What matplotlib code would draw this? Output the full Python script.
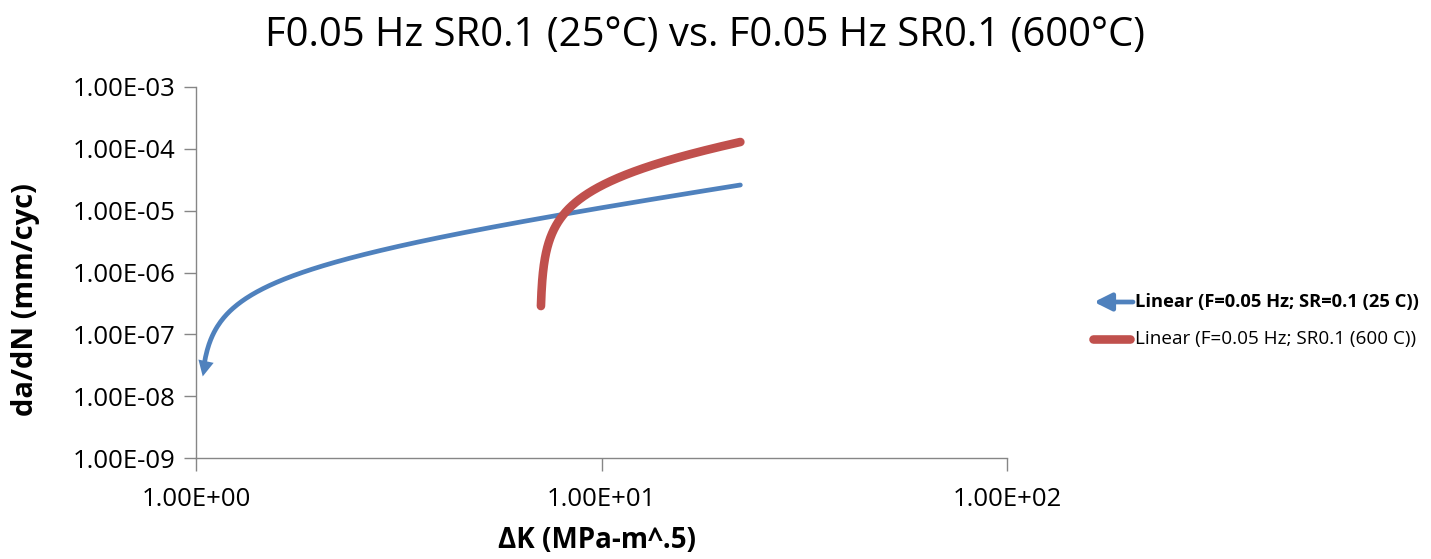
import numpy as np
import matplotlib
matplotlib.use("Agg")
import matplotlib.pyplot as plt
from matplotlib.ticker import FixedLocator, NullLocator

# Excel "Linear" trendlines (y = slope * x + intercept)
series_names = ["Linear (F=0.05 Hz; SR=0.1 (25 C))", "Linear (F=0.05 Hz; SR0.1 (600 C))"]
slopes = [1.24e-6, 8.63e-6]
intercepts = [-1.266e-6, -6.09e-5]
x_starts = [1.045, 7.09]
x_ends = [22.0, 22.0]

x_ticks = [1, 10, 100]
x_tick_labels = ["1.00E+00", "1.00E+01", "1.00E+02"]
y_ticks = [1e-9, 1e-8, 1e-7, 1e-6, 1e-5, 1e-4, 1e-3]
y_tick_labels = ["1.00E-09", "1.00E-08", "1.00E-07", "1.00E-06", "1.00E-05", "1.00E-04", "1.00E-03"]

blue = "#4F81BD"
red = "#C0504D"
grey = "#868686"

plt.rcParams['font.family'] = ['Open Sans', 'DejaVu Sans']

W, H = 1431, 559
fig = plt.figure(figsize=(W / 100, H / 100), dpi=100)
ax = fig.add_axes([196 / W, 1 - 458 / H, (1007 - 196) / W, (458 - 87) / H])

ax.set_xscale("log")
ax.set_yscale("log")
ax.set_xlim(1, 100)
ax.set_ylim(1e-9, 1e-3)

# trendlines
xb = np.linspace(x_starts[0], x_ends[0], 2000)
yb = slopes[0] * xb + intercepts[0]
ax.plot(xb, yb, color=blue, lw=3.4, solid_capstyle="round")
# arrow at the start of the blue trendline
ax.annotate("", xy=(xb[0] - 0.006, yb[0] * 0.7), xytext=(xb[4], yb[4]),
            arrowprops=dict(arrowstyle="-|>", color=blue, lw=0, mutation_scale=28,
                            shrinkA=0, shrinkB=0))

xr = np.linspace(x_starts[1], x_ends[1], 2000)
yr = slopes[1] * xr + intercepts[1]
ax.plot(xr, yr, color=red, lw=6.2, solid_capstyle="round")

# axes styling
for s in ["top", "right"]:
    ax.spines[s].set_visible(False)
for s in ["left", "bottom"]:
    ax.spines[s].set_color(grey)
    ax.spines[s].set_linewidth(1)

ax.xaxis.set_major_locator(FixedLocator(x_ticks))
ax.xaxis.set_minor_locator(NullLocator())
ax.set_xticklabels(x_tick_labels)
ax.yaxis.set_major_locator(FixedLocator(y_ticks))
ax.yaxis.set_minor_locator(NullLocator())
ax.set_yticklabels(y_tick_labels)
ax.tick_params(axis="both", direction="out", length=9, width=1, color=grey,
               labelsize=18.5, labelcolor="black")
ax.tick_params(axis="x", pad=12)
ax.tick_params(axis="y", pad=6)

fig.text(597 / W, 1 - 541 / H, "ΔK (MPa-m^.5)", ha="center", va="center",
         fontsize=20, fontweight="bold")
fig.text(25 / W, 1 - 300 / H, "da/dN (mm/cyc)", ha="center", va="center",
         rotation=90, fontsize=21, fontweight="bold")

fig.text(705 / W, 1 - 36 / H, "F0.05 Hz SR0.1 (25°C) vs. F0.05 Hz SR0.1 (600°C)",
         ha="center", va="center", fontsize=28.8)

# legend drawn by hand at the right
fig.add_artist(matplotlib.patches.FancyArrowPatch(
    (1133 / W, 1 - 302 / H), (1094 / W, 1 - 302 / H), transform=fig.transFigure,
    arrowstyle="-|>", mutation_scale=26, color=blue, lw=3.4, shrinkA=0, shrinkB=0))
fig.add_artist(matplotlib.lines.Line2D([1093 / W, 1130 / W], [1 - 339 / H, 1 - 339 / H],
                                       transform=fig.transFigure, color=red, lw=6.2,
                                       solid_capstyle="round"))
fig.text(1135 / W, 1 - 302 / H, series_names[0], ha="left", va="center",
         fontsize=13.2, fontweight="bold")
fig.text(1135 / W, 1 - 339 / H, series_names[1], ha="left", va="center",
         fontsize=13.6)

fig.savefig("out.png", dpi=100)
